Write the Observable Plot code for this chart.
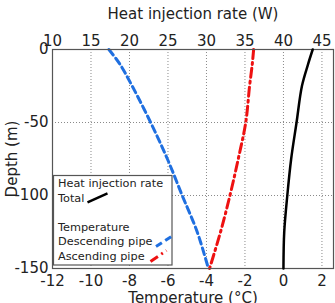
<!DOCTYPE html>
<html>
<head>
<meta charset="utf-8">
<script src="https://cdn.jsdelivr.net/npm/d3@7"></script>
<script src="https://cdn.jsdelivr.net/npm/@observablehq/plot@0.6"></script>
<style>
  body { margin: 0; background: #fff; }
  #chart { position: relative; width: 335px; height: 303px; overflow: hidden; }
  #chart svg { position: absolute; left: 0; top: 0; overflow: visible; }
</style>
</head>
<body>
<div id="chart"></div>
<script>
// Depth below surface (m)
const depth = [0, -10, -25, -50, -75, -100, -125, -150];
// Fluid temperature (°C) in each pipe
const descendingPipe = [-9.07, -8.5, -7.86, -6.9, -6.03, -5.26, -4.48, -3.9];
const ascendingPipe = [-1.55, -1.62, -1.76, -1.96, -2.35, -2.78, -3.27, -3.84];
// Cumulative heat injection rate (W)
const totalHeatRate = [43.8, 43.2, 42.4, 41.7, 41.0, 40.5, 40.1, 40.0];

const tempTicks = [-12, -10, -8, -6, -4, -2, 0, 2];
const heatTicks = [10, 15, 20, 25, 30, 35, 40, 45];
const depthTicks = [0, -50, -100, -150];

const legendHeat = ["Heat injection rate", "Total"];
const legendTemp = ["Temperature", "Descending pipe", "Ascending pipe"];

const rows = depth.map((d, i) => ({
  depth: d,
  desc: descendingPipe[i],
  asc: ascendingPipe[i],
  total: totalHeatRate[i]
}));

const W = 335, H = 303;
const margins = { marginLeft: 52, marginRight: 2, marginTop: 49, marginBottom: 35 };
const font = "DejaVu Sans";
const gridStyle = { stroke: "#8a8a8a", strokeOpacity: 1, strokeDasharray: "1,2", strokeWidth: 1 };

// Temperature axes (bottom) with both pipe profiles
const tempPlot = Plot.plot({
  width: W, height: H, ...margins,
  style: { fontFamily: font, fontSize: "15px", background: "transparent", color: "#222" },
  x: { domain: [-12, 2.6] },
  y: { domain: [-150, 0] },
  marks: [
    Plot.gridX(tempTicks, gridStyle),
    Plot.gridY(depthTicks, gridStyle),
    Plot.line(rows, { x: "desc", y: "depth", stroke: "#1f6fe0", strokeWidth: 3, strokeDasharray: "7,4", curve: "catmull-rom" }),
    Plot.line(rows, { x: "asc", y: "depth", stroke: "#ee1111", strokeWidth: 3, strokeDasharray: "9,4,2,4", curve: "catmull-rom" }),
    Plot.frame({ stroke: "#555", strokeWidth: 1.2 }),
    Plot.axisX(tempTicks, {
      anchor: "bottom", tickSize: 0, tickPadding: 7, tickFormat: d => String(d), fontSize: 15,
      label: "Temperature (°C)", labelAnchor: "center", labelArrow: "none", labelOffset: 34
    }),
    Plot.axisY(depthTicks, {
      anchor: "left", tickSize: 0, tickPadding: 4, tickFormat: d => String(d), fontSize: 15,
      label: "Depth (m)", labelAnchor: "center", labelArrow: "none", labelOffset: 46
    })
  ]
});

// Heat injection axes (top) with the total profile
const heatPlot = Plot.plot({
  width: W, height: H, ...margins,
  style: { fontFamily: font, fontSize: "15px", background: "transparent", color: "#222" },
  x: { domain: [10, 46.5] },
  y: { domain: [-150, 0], axis: null },
  marks: [
    Plot.line(rows, { x: "total", y: "depth", stroke: "#000", strokeWidth: 2.5, curve: "catmull-rom" }),
    Plot.axisX(heatTicks, {
      anchor: "top", tickSize: 0, tickPadding: 4, tickFormat: d => String(d), fontSize: 15,
      label: "Heat injection rate (W)", labelAnchor: "center", labelArrow: "none", labelOffset: 41
    })
  ]
});

const chart = document.getElementById("chart");
chart.append(tempPlot, heatPlot);

// Legend box drawn on top of everything
const svg = d3.select(heatPlot);
const lg = svg.append("g")
  .attr("font-family", font).attr("font-size", 11.3)
  .attr("fill", "#222").attr("text-anchor", "start");
lg.append("rect")
  .attr("x", 53.5).attr("y", 175.5).attr("width", 118.5).attr("height", 89.5)
  .attr("fill", "#fff").attr("stroke", "#555").attr("stroke-width", 1.2);

const baselines = [187.3, 201.7, 230.7, 245, 260];
[...legendHeat, ...legendTemp].forEach((t, i) => {
  lg.append("text").attr("x", 58).attr("y", baselines[i]).attr("text-anchor", "start").text(t);
});

lg.append("line").attr("x1", 87.5).attr("y1", 202.3).attr("x2", 107.5).attr("y2", 193.3)
  .attr("stroke", "#000").attr("stroke-width", 2.5);
lg.append("line").attr("x1", 156).attr("y1", 246.5).attr("x2", 173).attr("y2", 235.5)
  .attr("stroke", "#1f6fe0").attr("stroke-width", 3).attr("stroke-dasharray", "7,4");
lg.append("line").attr("x1", 150.5).attr("y1", 261.5).attr("x2", 166.5).attr("y2", 250.5)
  .attr("stroke", "#ee1111").attr("stroke-width", 3).attr("stroke-dasharray", "9,4,2,4");
</script>
</body>
</html>
